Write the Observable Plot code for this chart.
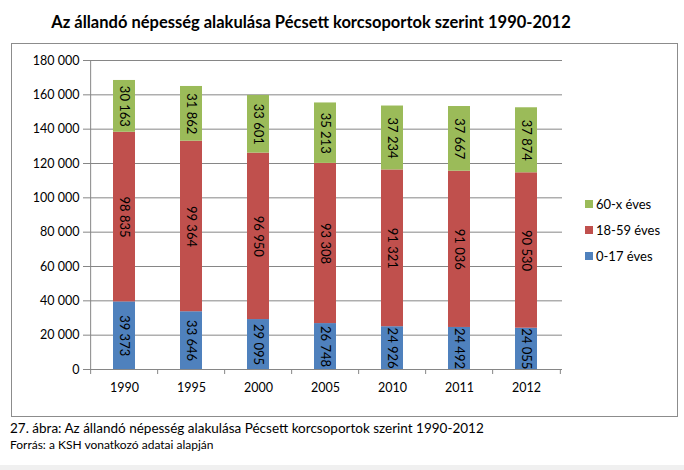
<!DOCTYPE html>
<html><head><meta charset="utf-8">
<script src="https://cdn.jsdelivr.net/npm/d3@7"></script>
<script src="https://cdn.jsdelivr.net/npm/@observablehq/plot@0.6"></script>
<style>
body{margin:0;background:#fff;}
#wrap{position:relative;width:684px;height:470px;background:#fff;overflow:hidden;font-family:Lato,"Open Sans",sans-serif;}
#title{position:absolute;left:0;width:622px;top:12px;text-align:center;font-weight:bold;font-size:16.5px;color:#000;}
#box{position:absolute;left:11px;top:43px;width:665px;height:372px;border:1px solid #8c8c8c;}
#chart{position:absolute;left:11px;top:43px;}
#legend{position:absolute;left:585px;top:196px;font-size:13px;color:#000;}
.li{height:26px;display:flex;align-items:flex-start;}
.sw{width:8px;height:8px;margin-right:3px;margin-top:4px;}
#cap1{position:absolute;left:10px;top:420px;font-size:13.5px;color:#000;}
#cap2{position:absolute;left:10px;top:437px;font-size:12px;color:#000;}
#strip{position:absolute;left:0;top:465px;width:684px;height:5px;background:#f0f0f0;}
</style></head>
<body><div id="wrap">
<div id="title">Az állandó népesség alakulása Pécsett korcsoportok szerint 1990-2012</div>
<div id="box"></div>
<div id="chart"></div>
<div id="legend"></div>
<div id="cap1">27. ábra: Az állandó népesség alakulása Pécsett korcsoportok szerint 1990-2012</div>
<div id="cap2">Forrás: a KSH vonatkozó adatai alapján</div>
<div id="strip"></div>
</div>
<script>
const years = ["1990","1995","2000","2005","2010","2011","2012"];
const groups = ["0-17 éves","18-59 éves","60-x éves"];
const colors = ["#4F81BD","#C0504D","#9BBB59"];
const young = [39373,33646,29095,26748,24926,24492,24055];
const adult = [98835,99364,96950,93308,91321,91036,90530];
const old = [30163,31862,33601,35213,37234,37667,37874];
const yTicks = [0,20000,40000,60000,80000,100000,120000,140000,160000,180000];

const series = [young, adult, old];
const data = [];
groups.forEach((g, gi) => years.forEach((y, i) => data.push({year: y, group: g, value: series[gi][i]})));
const fmt = v => d3.format(",")(v).replace(/,/g, " ");

const W = 666, H = 373, mL = 77, mR = 115, mT = 17, mB = 47;
const step = (W - mL - mR) / years.length;
const grey = "#868686";

const plot = Plot.plot({
  width: W, height: H,
  marginLeft: mL, marginRight: mR, marginTop: mT, marginBottom: mB,
  style: {fontFamily: "Lato, 'Open Sans', sans-serif", fontSize: "12.5px", color: "#000", background: "transparent", overflow: "visible"},
  x: {domain: years, paddingInner: 0.675, paddingOuter: 0.3375, label: null},
  y: {domain: [0, 180000], label: null},
  color: {domain: groups, range: colors},
  marks: [
    Plot.gridY(yTicks, {stroke: grey, strokeOpacity: 1}),
    Plot.barY(data, Plot.stackY({x: "year", y: "value", fill: "group", z: "group"})),
    Plot.textY(data, Plot.stackY({x: "year", y: "value", z: "group", text: d => fmt(d.value), rotate: 90, fontSize: 13, fill: "#000"})),
    Plot.ruleY([0], {stroke: grey}),
    Plot.ruleX([years[0]], {stroke: grey, dx: -step/2, y1: 0, y2: 180000}),
    Plot.ruleX(years, {stroke: grey, dx: -step/2, y1: 0, y2: 0, insetBottom: -5}),
    Plot.ruleX([years[years.length-1]], {stroke: grey, dx: step/2, y1: 0, y2: 0, insetBottom: -5}),
    Plot.axisY(yTicks, {tickFormat: fmt, tickSize: 5, tickPadding: 4, stroke: grey, label: null, fontSize: 12.5}),
    Plot.axisX({tickSize: 0, tickPadding: 14, label: null, fontSize: 12.5})
  ]
});
document.getElementById("chart").appendChild(plot);

const leg = document.getElementById("legend");
[2,1,0].forEach(i => {
  const d = document.createElement("div"); d.className = "li";
  d.innerHTML = `<div class="sw" style="background:${colors[i]}"></div><span>${groups[i]}</span>`;
  leg.appendChild(d);
});
</script>
</body></html>
